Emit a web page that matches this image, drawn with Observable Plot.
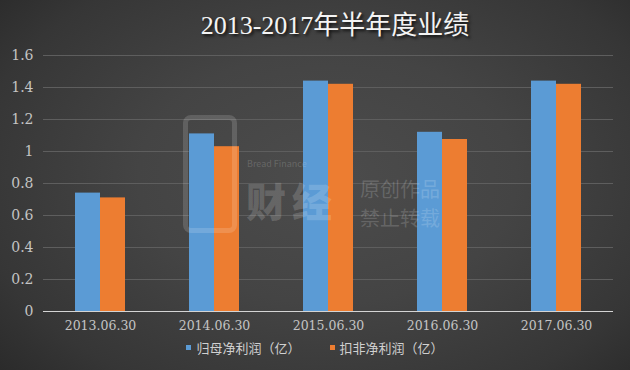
<!DOCTYPE html>
<html>
<head>
<meta charset="utf-8">
<script src="https://cdn.jsdelivr.net/npm/d3@7"></script>
<script src="https://cdn.jsdelivr.net/npm/@observablehq/plot@0.6"></script>
<style>
  html, body { margin: 0; padding: 0; }
  #frame {
    position: relative; width: 630px; height: 370px; overflow: hidden;
    background: radial-gradient(ellipse 75% 85% at 52% 48%, #4c4c4c 0%, #444 40%, #363636 75%, #262626 100%);
  }
  #title {
    height: 40px; box-sizing: border-box; padding-top: 11px; padding-left: 40px;
    text-align: center; line-height: 30px; font-size: 26px; color: #f4f4f4;
    font-family: "Liberation Serif", "Noto Sans CJK SC", serif;
    text-shadow: 2px 2px 3px rgba(0,0,0,0.75);
  }
  #legend {
    height: 25px; display: flex; justify-content: center; align-items: center; gap: 29px;
    font-family: "Noto Sans CJK SC", sans-serif; font-size: 13px; color: #d0d0d0;
  }
  .item { display: flex; align-items: center; gap: 5px; }
  .sw { width: 5px; height: 5px; display: inline-block; }
  .wm { position: absolute; pointer-events: none; color: rgba(255,255,255,0.17); font-family: "Noto Sans CJK SC", sans-serif; white-space: nowrap; }
  #chart svg { display: block; }
  #chart svg text { font-family: "DejaVu Serif", serif; }
</style>
</head>
<body>
<div id="frame">
  <div id="title"></div>
  <div id="chart"></div>
  <div id="legend"></div>
</div>
<script>
const titleText = "2013-2017年半年度业绩";
const dates = ["2013.06.30", "2014.06.30", "2015.06.30", "2016.06.30", "2017.06.30"];
const seriesNames = ["归母净利润（亿）", "扣非净利润（亿）"];
const guimu = [0.74, 1.11, 1.44, 1.12, 1.44];
const koufei = [0.71, 1.03, 1.42, 1.075, 1.42];
const colors = ["#5b9bd5", "#ed7d31"];
const yTicks = [0, 0.2, 0.4, 0.6, 0.8, 1, 1.2, 1.4, 1.6];
const watermarkLines = ["原创作品", "禁止转载"];
const watermarkBrand = "Bread Finance";
const watermarkLogo = "财经";

document.getElementById("title").textContent = titleText;

const rows = dates.flatMap((d, i) => [
  {date: d, series: seriesNames[0], value: guimu[i]},
  {date: d, series: seriesNames[1], value: koufei[i]}
]);

const chart = Plot.plot({
  width: 630,
  height: 295,
  marginLeft: 42,
  marginRight: 17,
  marginTop: 15,
  marginBottom: 24,
  style: {background: "transparent", color: "#c4c4c4", fontFamily: "DejaVu Serif, serif", fontSize: "12.5px", overflow: "visible"},
  fx: {domain: dates, padding: 0, label: null, axis: "bottom", tickSize: 0, tickPadding: 10},
  x: {domain: seriesNames, axis: null, paddingInner: 0, paddingOuter: 1.24},
  y: {domain: [0, 1.6], ticks: yTicks, tickSize: 0, tickPadding: 10, label: null,
      tickFormat: d => String(+d.toFixed(1))},
  color: {domain: seriesNames, range: colors},
  marks: [
    Plot.ruleY(yTicks.filter(t => t > 0), {stroke: "#5e5e5e", strokeWidth: 1}),
    Plot.barY(rows, {fx: "date", x: "series", y: "value", fill: "series"}),
    Plot.ruleY([0], {stroke: "#d4d4d4", strokeWidth: 1.2})
  ]
});
chart.querySelectorAll("text").forEach(t => {
  t.setAttribute("font-family", "DejaVu Serif, serif");
  t.style.fontFamily = "'DejaVu Serif', serif";
  if (yTicks.map(d => String(+d.toFixed(1))).includes(t.textContent)) t.style.fontSize = "14px";
});
document.getElementById("chart").appendChild(chart);

const legend = document.getElementById("legend");
seriesNames.forEach((name, i) => {
  const item = document.createElement("div");
  item.className = "item";
  const sw = document.createElement("span");
  sw.className = "sw";
  sw.style.background = colors[i];
  const label = document.createElement("span");
  label.textContent = name;
  item.appendChild(sw);
  item.appendChild(label);
  legend.appendChild(item);
});

// faint watermark
const frame = document.getElementById("frame");
function wm(html, left, top, size, lh, weight, ls) {
  const el = document.createElement("div");
  el.className = "wm";
  el.innerHTML = html;
  el.style.left = left + "px";
  el.style.top = top + "px";
  el.style.fontSize = size + "px";
  el.style.lineHeight = lh;
  if (weight) el.style.fontWeight = weight;
  if (ls) el.style.letterSpacing = ls + "px";
  frame.appendChild(el);
}
wm(watermarkBrand, 247, 157, 9, "normal");
wm(watermarkLogo, 246, 171, 40, "normal", 900, 6);
wm(watermarkLines[0], 360, 174, 20, "normal");
wm(watermarkLines[1], 360, 203, 20, "normal");
const box = document.createElement("div");
box.className = "wm";
Object.assign(box.style, {left: "183px", top: "115px", width: "54px", height: "118px", border: "5px solid rgba(255,255,255,0.15)", borderRadius: "8px", boxSizing: "border-box"});
frame.appendChild(box);
</script>
</body>
</html>
